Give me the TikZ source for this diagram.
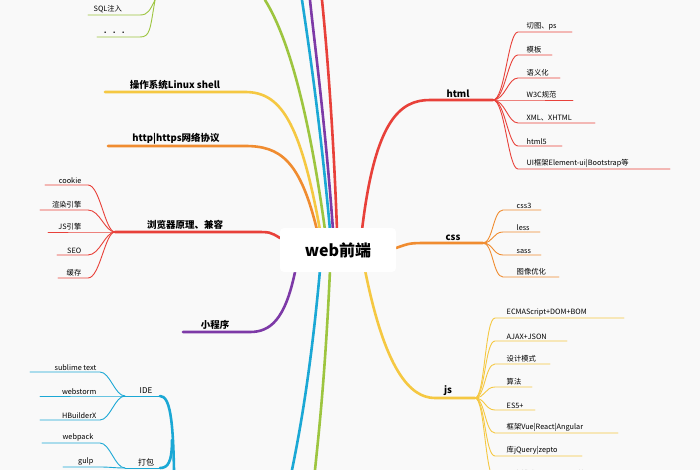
\documentclass[tikz,border=0pt]{standalone}
\usepackage{fontspec}
\setmainfont{Noto Sans CJK SC}
\begin{document}
\definecolor{mred}{HTML}{E8413A}
\definecolor{morange}{HTML}{F08C30}
\definecolor{myellow}{HTML}{F5C842}
\definecolor{mgreen}{HTML}{9DC53F}
\definecolor{mblue}{HTML}{1BA8D5}
\definecolor{mpurple}{HTML}{7D3AA7}
\begin{tikzpicture}[x=1pt,y=-1pt,
  trunk/.style={line width=2.6pt,line cap=round},
  twig/.style={line width=0.9pt,line cap=round},
  toplabel/.style={font=\bfseries\fontsize{9.5}{11}\selectfont,anchor=south,inner sep=2pt},
  leaf/.style={font=\fontsize{7.3}{9}\selectfont,anchor=south west,inner sep=1.5pt}]
\useasboundingbox[fill=gray!5] (0,0) rectangle (700,470);

% trunks running off the top and bottom
\draw[trunk,mgreen] (325,230) .. controls (310,120) and (290,40) .. (265,0);
\draw[trunk,mblue] (330,230) .. controls (320,120) and (308,40) .. (302,0);
\draw[trunk,mpurple] (333,230) .. controls (325,120) and (314,40) .. (310,0);
\draw[trunk,mred] (337,230) .. controls (333,120) and (326,40) .. (322,0);
\draw[trunk,mblue] (320,270) .. controls (310,380) and (298,440) .. (292,470);
\draw[trunk,mgreen] (330,270) .. controls (325,380) and (318,440) .. (315,470);

% left branches
\draw[trunk,myellow] (320,230) .. controls (300,120) and (280,92) .. (245,92) -- (105,92);
\node[toplabel] (os) at (175,92) {操作系统Linux shell};
\draw[trunk,morange] (317,230) .. controls (300,160) and (280,146) .. (245,146) -- (108,146);
\node[toplabel] (http) at (176,146) {http|https网络协议};
\draw[trunk,mred] (280,238) .. controls (270,232) .. (255,232) -- (115,232);
\node[toplabel] (browser) at (185,232) {浏览器原理、兼容};
\draw[trunk,mpurple] (295,272) .. controls (285,320) and (270,332) .. (250,332) -- (183,332);
\node[toplabel] (mini) at (215,332) {小程序};

\foreach \y/\s/\t [count=\i] in {185/45/cookie,210/40/渲染引擎,232/48/JS引擎,255/57/SEO,278/58/缓存}{
  \draw[twig,mred] (115,232) .. controls (105,232) and (100,\y) .. (88,\y) -- (\s,\y);
  \node[leaf,anchor=south east] (b\i) at (83,\y) {\t};
}

% top-left remnants
\draw[twig,mgreen] (155,0) .. controls (150,10) and (148,15) .. (140,15) -- (88,15);
\node[leaf] (sql) at (92,15) {SQL注入};
\draw[twig,mgreen] (155,0) .. controls (150,30) and (150,37) .. (140,37) -- (97,37);
\node[leaf] (dots) at (100,37) {· · ·};

% IDE and bundling
\draw[trunk,mblue] (160,396) .. controls (170,396) and (173,420) .. (174,470);
\draw[trunk,mblue] (172,440) .. controls (172,462) and (168,468) .. (160,468);
\draw[twig,mblue] (160,396) -- (125,396);
\node[toplabel,font=\fontsize{8}{9}\selectfont] (ide) at (146,396) {IDE};
\draw[twig,mblue] (160,468) -- (125,468);
\node[toplabel,font=\fontsize{8}{9}\selectfont] (pack) at (146,468) {打包};
\foreach \y/\s/\t [count=\i] in {372/30/sublime text,396/40/webstorm,420/40/HBuilderX}{
  \draw[twig,mblue] (125,396) .. controls (115,396) and (110,\y) .. (100,\y) -- (\s,\y);
  \node[leaf,anchor=south east] (i\i) at (98,\y) {\t};
}
\foreach \y/\s/\t [count=\i] in {443/42/webpack,467/63/gulp}{
  \draw[twig,mblue] (125,468) .. controls (115,468) and (110,\y) .. (100,\y) -- (\s,\y);
  \node[leaf,anchor=south east] (p\i) at (95,\y) {\t};
}

% right branches
\draw[trunk,mred] (362,230) .. controls (375,120) and (400,100) .. (430,100) -- (493,100);
\node[toplabel] (html) at (458,100) {html};
\foreach \y/\e/\t [count=\i] in {32/572/切图、ps,55/552/模板,78/560/语义化,100/573/W3C规范,123/595/XML、XHTML,146/562/html5,169/670/UI框架Element-ui|Bootstrap等}{
  \draw[twig,mred] (493,100) .. controls (505,100) and (508,\y) .. (518,\y) -- (\e,\y);
  \node[leaf] (h\i) at (525,\y) {\t};
}
\draw[trunk,morange] (396,248) .. controls (410,243) .. (430,243) -- (483,243);
\node[toplabel] (css) at (453,243) {css};
\foreach \y/\e/\t [count=\i] in {210/541/css3,232/540/less,255/541/sass,277/559/图像优化}{
  \draw[twig,morange] (483,243) .. controls (493,243) and (493,\y) .. (503,\y) -- (\e,\y);
  \node[leaf] (c\i) at (515,\y) {\t};
}
\draw[trunk,myellow] (365,270) .. controls (385,370) and (410,398) .. (435,398) -- (475,398);
\node[toplabel] (js) at (448,398) {js};
\foreach \y/\e/\t [count=\i] in {318/624/ECMAScript+DOM+BOM,341/567/AJAX+JSON,364/550/设计模式,387/532/算法,410/535/ES5+,433/618/框架Vue|React|Angular,456/582/库jQuery|zepto,479/620/开发模式MVC、MVVM等}{
  \draw[twig,myellow] (475,398) .. controls (485,398) and (485,\y) .. (495,\y) -- (\e,\y);
  \node[leaf] (j\i) at (505,\y) {\t};
}

% centre
\node[fill=white,rounded corners=4pt,minimum width=116pt,minimum height=44pt,
  font=\bfseries\fontsize{16}{19}\selectfont] (web) at (338,250) {web前端};
\end{tikzpicture}
\end{document}
